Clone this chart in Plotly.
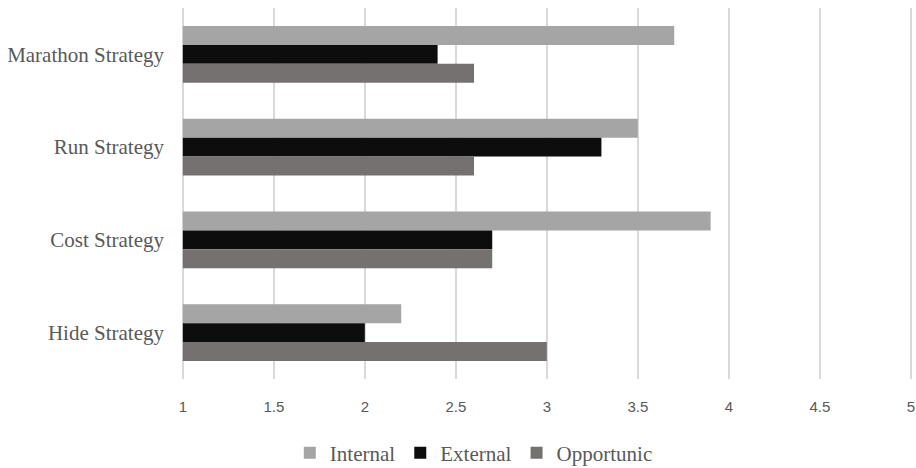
import plotly.graph_objects as go

categories = ["Marathon Strategy", "Run Strategy", "Cost Strategy", "Hide Strategy"]
internal = [3.7, 3.5, 3.9, 2.2]
external = [2.4, 3.3, 2.7, 2.0]
opportunic = [2.6, 2.6, 2.7, 3.0]
x_ticks = [1, 1.5, 2, 2.5, 3, 3.5, 4, 4.5, 5]
x_tick_labels = ["1", "1.5", "2", "2.5", "3", "3.5", "4", "4.5", "5"]

series = [("Internal", internal, "#A5A5A5"),
          ("External", external, "#0D0D0D"),
          ("Opportunic", opportunic, "#767171")]

fig = go.Figure()
for name, vals, col in series:
    fig.add_trace(go.Bar(
        y=categories, x=[v - 1 for v in vals], base=1, name=name, orientation="h",
        marker=dict(color=col, line=dict(width=0)),
        hoverinfo="x+y+name",
    ))

serif = "Liberation Serif, Times New Roman, serif"
fig.update_layout(
    width=916, height=468,
    margin=dict(l=181, r=3, t=8, b=89, autoexpand=False),
    paper_bgcolor="white", plot_bgcolor="white",
    barmode="group", bargap=0.39, bargroupgap=0,
    showlegend=True,
    legend=dict(orientation="h", x=0.40, xanchor="center", y=-0.2, yanchor="middle",
                font=dict(family=serif, size=21, color="#595959"),
                tracegroupgap=0),
    xaxis=dict(range=[0.99, 5.012], tickvals=x_ticks, ticktext=x_tick_labels,
               showgrid=True, gridcolor="#D9D9D9", gridwidth=1.5,
               zeroline=False, showline=False, ticks="",
               ticklabelstandoff=17, automargin=False,
               tickfont=dict(family="Liberation Sans", size=15, color="#595959")),
    yaxis=dict(autorange="reversed", showgrid=False, showline=False, ticks="",
               ticklabelstandoff=16, automargin=False,
               tickfont=dict(family=serif, size=21, color="#595959")),
)
fig.write_html("out.html")
